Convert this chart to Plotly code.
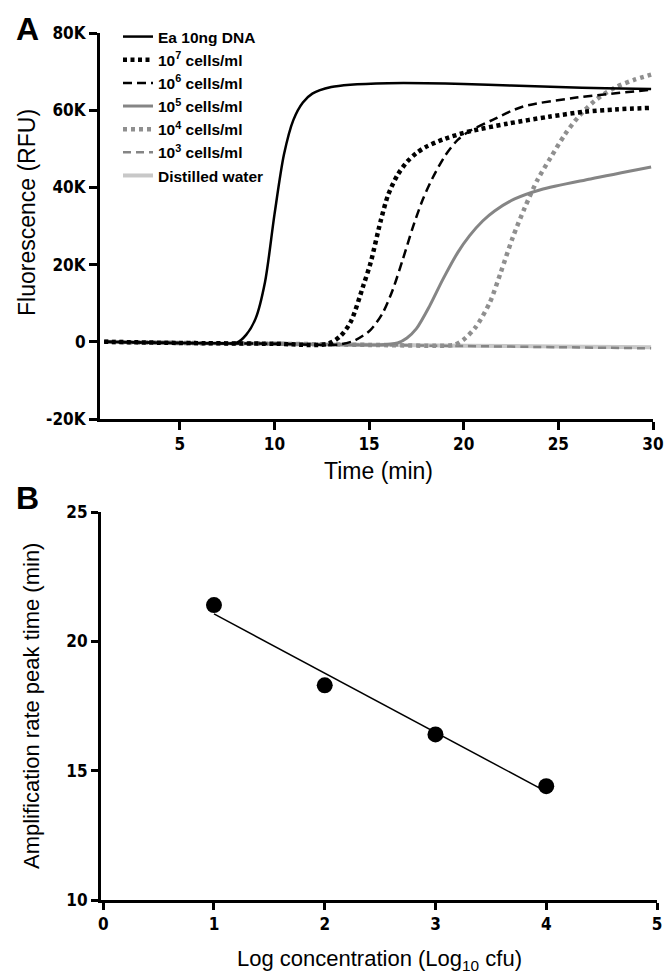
import numpy as np
import plotly.graph_objects as go

W, H = 672, 974

# ---------------- Panel A data (time in min, fluorescence in RFU) ----------------
t_ea = [1, 3, 5, 7, 8.0, 8.5, 9.0, 9.5, 10.0, 10.5, 11.0, 11.5, 12.0, 13.0, 14.0, 16.0, 18.0, 20.0, 22.5, 25.0, 27.5, 29.9]
v_ea = [0, -150, -300, -400, -250, 1800, 6000, 15500, 33000, 48500, 57500, 62000, 64300, 66000, 66600, 67000, 67000, 66800, 66400, 66000, 65700, 65500]

t_e7 = [1, 5, 10, 12.8, 13.5, 14.03, 14.71, 15.08, 15.61, 16.0, 16.5, 17.0, 17.5, 18.0, 19.0, 20.3, 22.3, 24.5, 26.4, 28.0, 29.9]
v_e7 = [0, -300, -500, -550, 1550, 5200, 14800, 20500, 31300, 38000, 43200, 46600, 48900, 50500, 52600, 54500, 56500, 58300, 59600, 60200, 60600]

t_e6 = [1, 5, 10, 13.5, 14.3, 15.08, 15.72, 16.25, 16.77, 17.3, 17.83, 18.36, 19.04, 19.68, 20.31, 21.53, 23.1, 25.86, 29.9]
v_e6 = [0, -300, -500, -650, 500, 3100, 7500, 13500, 21200, 29500, 36800, 42500, 48400, 52300, 54600, 57500, 60900, 63200, 65300]

t_e5 = [1, 5, 10, 15.5, 16.5, 17.0, 17.5, 18.2, 18.89, 19.68, 20.31, 21.0, 21.63, 22.69, 24.06, 26.7, 29.9]
v_e5 = [0, -300, -500, -800, -300, 1000, 3400, 9300, 16100, 23100, 27500, 31300, 33900, 37000, 39400, 42200, 45300]

t_e4 = [1, 5, 10, 15, 18.5, 19.5, 20.0, 20.63, 21.37, 21.95, 22.58, 23.22, 23.9, 24.59, 25.33, 26.01, 26.91, 27.97, 29.02, 29.9]
v_e4 = [0, -300, -500, -800, -1000, -800, 600, 3800, 10100, 17900, 26900, 34700, 42000, 47700, 53600, 58000, 62400, 65800, 67900, 69200]

t_e3 = [1, 5, 10, 15, 20, 25, 29.9]
v_e3 = [0, -300, -500, -800, -1100, -1400, -1700]

t_water = [1, 5, 10, 15, 20, 25, 29.9]
v_water = [0, -300, -500, -750, -1000, -1200, -1400]

y_ticks_a = [-20000, 0, 20000, 40000, 60000, 80000]
y_ticklabels_a = ["-20K", "0", "20K", "40K", "60K", "80K"]
x_ticks_a = [5, 10, 15, 20, 25, 30]

# ---------------- Panel B data ----------------
log_conc = [1, 2, 3, 4]
peak_time = [21.4, 18.3, 16.4, 14.4]
x_ticks_b = [0, 1, 2, 3, 4, 5]
y_ticks_b = [10, 15, 20, 25]

# ---------------- helpers ----------------
def X(px):
    return px / W

def Y(py):
    return 1 - py / H

NARROW = "DejaVu Sans Condensed, Liberation Sans Narrow, Arial Narrow, Liberation Sans, Arial"
TICKFONT = dict(family=NARROW, size=17, color="black", weight="bold")
LEGFONT = dict(family="Liberation Sans, Arial", size=15.5, color="black", weight="bold")
TITLEFONT = "Liberation Sans, Arial, sans-serif"

fig = go.Figure()

# drawing order (bottom to top); legend order set by legendrank
series = [
    ("Distilled water", t_water, v_water, "#c8c8c8", 4, "solid", 7),
    ("10<sup>3</sup> cells/ml", t_e3, v_e3, "#858585", 2.5, "8px,5px", 6),
    ("10<sup>4</sup> cells/ml", t_e4, v_e4, "#8f8f8f", 4.5, "4px,4px", 5),
    ("10<sup>5</sup> cells/ml", t_e5, v_e5, "#858585", 3, "solid", 4),
    ("10<sup>6</sup> cells/ml", t_e6, v_e6, "black", 2.5, "9px,5px", 3),
    ("10<sup>7</sup> cells/ml", t_e7, v_e7, "black", 4.5, "4px,3.5px", 2),
    ("Ea 10ng DNA", t_ea, v_ea, "black", 2.5, "solid", 1),
]
for name, t, v, col, lw, dash, rank in series:
    fig.add_trace(go.Scatter(
        x=t, y=v, mode="lines", name=name, legendrank=rank,
        line=dict(color=col, width=lw, dash=dash, shape="spline", smoothing=0.8),
        xaxis="x", yaxis="y", showlegend=True,
    ))

# Panel B
coef = np.polyfit(log_conc, peak_time, 1)
fit_x = [log_conc[0], log_conc[-1]]
fit_y = [float(np.polyval(coef, v)) for v in fit_x]
fig.add_trace(go.Scatter(x=fit_x, y=fit_y, mode="lines", line=dict(color="black", width=1.5),
                         xaxis="x2", yaxis="y2", showlegend=False))
fig.add_trace(go.Scatter(x=log_conc, y=peak_time, mode="markers",
                         marker=dict(color="black", size=16, line=dict(width=0)),
                         xaxis="x2", yaxis="y2", showlegend=False))

axis_common = dict(showline=True, linecolor="black", linewidth=3, ticks="outside",
                   tickcolor="black", tickwidth=2.5, showgrid=False, zeroline=False,
                   automargin=False, tickfont=TICKFONT)

fig.update_layout(
    width=W, height=H,
    margin=dict(l=0, r=0, t=0, b=0),
    paper_bgcolor="white", plot_bgcolor="white",
    xaxis=dict(domain=[X(92), X(645)], range=[0.78, 30], tickvals=x_ticks_a,
               ticklen=8, anchor="y", **axis_common),
    yaxis=dict(domain=[Y(411), Y(25)], range=[-20000, 80000], tickvals=y_ticks_a,
               ticktext=y_ticklabels_a, ticklen=8, anchor="x", **axis_common),
    xaxis2=dict(domain=[X(93), X(649)], range=[-0.02, 5], tickvals=x_ticks_b,
                ticklen=7, anchor="y2", **axis_common),
    yaxis2=dict(domain=[Y(892), Y(504)], range=[10, 25], tickvals=y_ticks_b,
                ticklen=7, anchor="x2", **axis_common),
    legend=dict(x=X(110), y=Y(12), xanchor="left", yanchor="top",
                font=LEGFONT, bgcolor="rgba(0,0,0,0)", tracegroupgap=0,
                itemwidth=30),
    showlegend=True,
)

annots = [
    dict(text="<b>A</b>", x=X(19), y=Y(21), font=dict(size=32, family=TITLEFONT)),
    dict(text="<b>B</b>", x=X(19), y=Y(490), font=dict(size=32, family=TITLEFONT)),
    dict(text="Fluorescence (RFU)", x=X(19), y=Y(205), textangle=-90, font=dict(size=23, family=TITLEFONT)),
    dict(text="Time (min)", x=X(370), y=Y(463), font=dict(size=23, family=TITLEFONT)),
    dict(text="Amplification rate peak time (min)", x=X(23), y=Y(698), textangle=-90,
         font=dict(size=22, family=TITLEFONT)),
    dict(text="Log concentration (Log<sub>10</sub> cfu)", x=X(371), y=Y(952),
         font=dict(size=22, family=TITLEFONT)),
]
for a in annots:
    fig.add_annotation(xref="paper", yref="paper", showarrow=False, xanchor="center",
                       yanchor="middle", font_color="black", **a)

fig.write_html("out.html")
